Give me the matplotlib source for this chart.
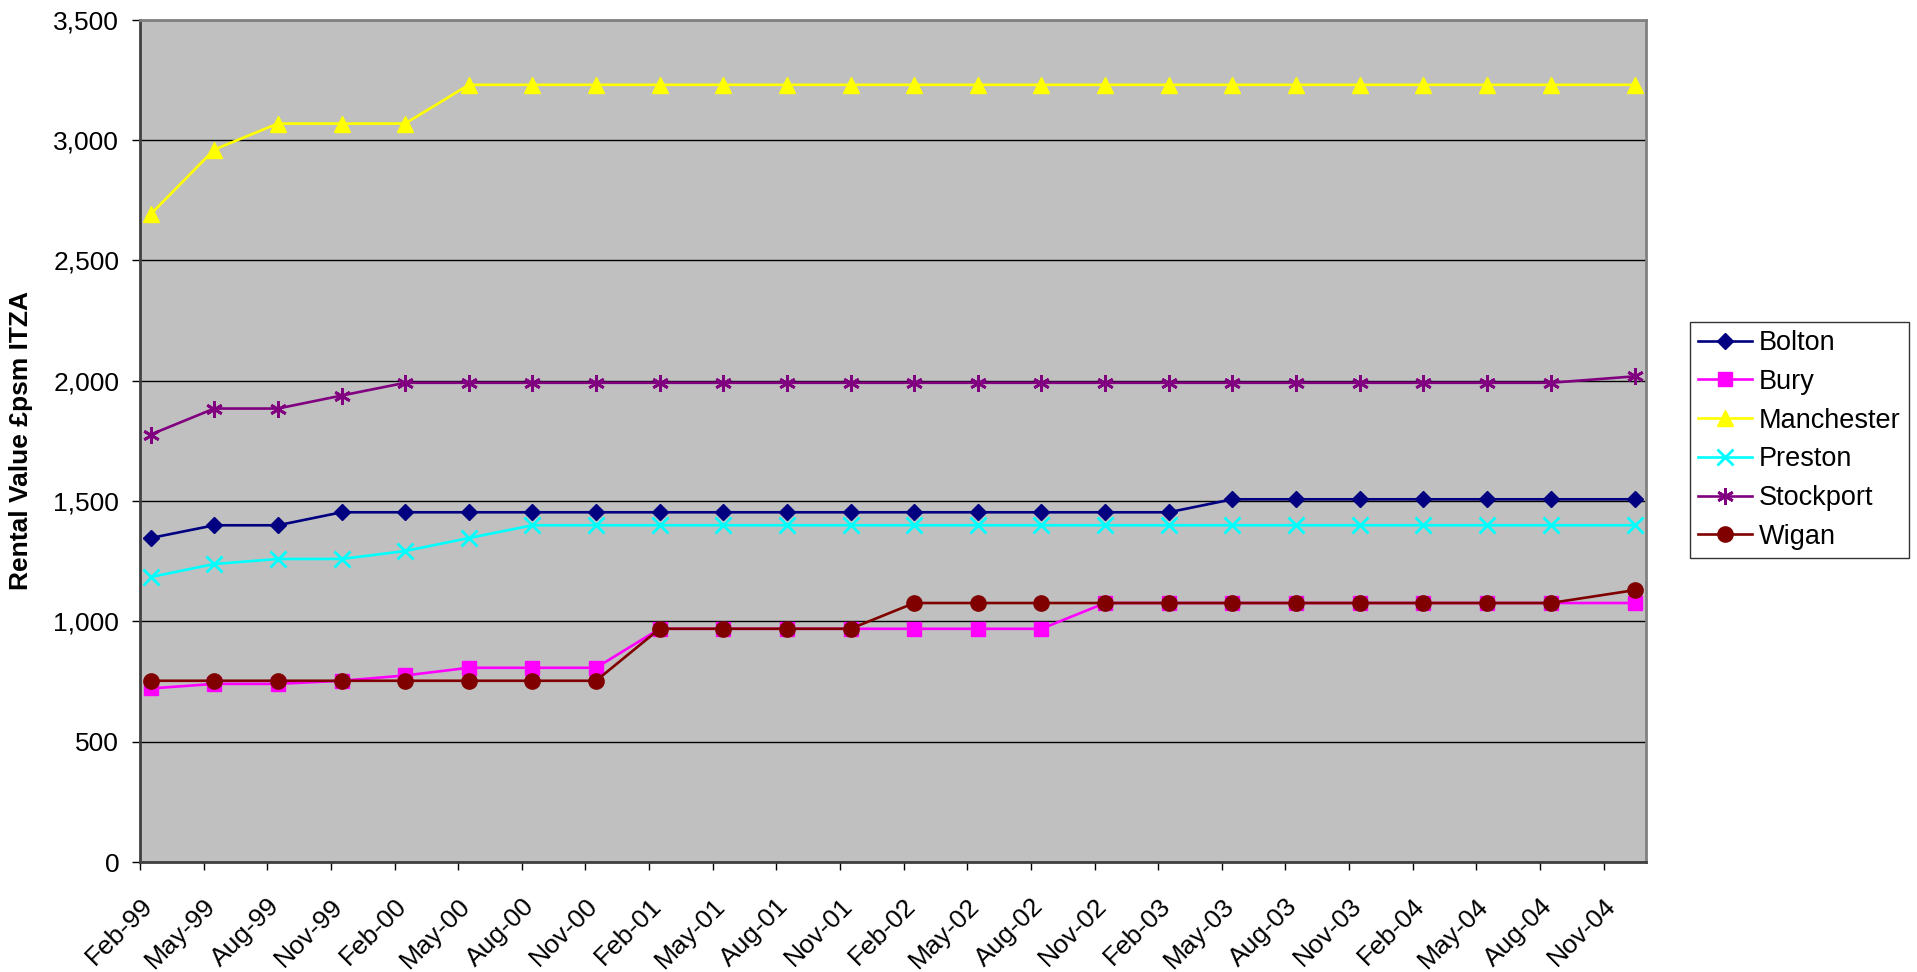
import matplotlib
matplotlib.use("Agg")
import matplotlib.pyplot as plt
import matplotlib.ticker as mticker
import pandas as pd

plt.rcParams['font.family'] = ['Liberation Sans', 'DejaVu Sans']

# quarterly survey dates (last one is December)
dates = ["Feb-99", "May-99", "Aug-99", "Nov-99", "Feb-00", "May-00", "Aug-00", "Nov-00",
         "Feb-01", "May-01", "Aug-01", "Nov-01", "Feb-02", "May-02", "Aug-02", "Nov-02",
         "Feb-03", "May-03", "Aug-03", "Nov-03", "Feb-04", "May-04", "Aug-04", "Dec-04"]

tick_labels = ["Feb-99", "May-99", "Aug-99", "Nov-99", "Feb-00", "May-00", "Aug-00", "Nov-00",
               "Feb-01", "May-01", "Aug-01", "Nov-01", "Feb-02", "May-02", "Aug-02", "Nov-02",
               "Feb-03", "May-03", "Aug-03", "Nov-03", "Feb-04", "May-04", "Aug-04", "Nov-04"]

bolton = [1346, 1399, 1399, 1453, 1453, 1453, 1453, 1453, 1453, 1453, 1453, 1453,
          1453, 1453, 1453, 1453, 1453, 1507, 1507, 1507, 1507, 1507, 1507, 1507]
bury = [721, 740, 740, 753, 775, 807, 807, 807, 969, 969, 969, 969,
        969, 969, 969, 1076, 1076, 1076, 1076, 1076, 1076, 1076, 1076, 1076]
manchester = [2691, 2960, 3068, 3068, 3068, 3229, 3229, 3229, 3229, 3229, 3229, 3229,
              3229, 3229, 3229, 3229, 3229, 3229, 3229, 3229, 3229, 3229, 3229, 3229]
preston = [1184, 1238, 1259, 1259, 1292, 1346, 1399, 1399, 1399, 1399, 1399, 1399,
           1399, 1399, 1399, 1399, 1399, 1399, 1399, 1399, 1399, 1399, 1399, 1399]
stockport = [1776, 1884, 1884, 1938, 1991, 1991, 1991, 1991, 1991, 1991, 1991, 1991,
             1991, 1991, 1991, 1991, 1991, 1991, 1991, 1991, 1991, 1991, 1991, 2018]
wigan = [753, 753, 753, 753, 753, 753, 753, 753, 969, 969, 969, 969,
         1076, 1076, 1076, 1076, 1076, 1076, 1076, 1076, 1076, 1076, 1076, 1130]


def month_index(labels):
    d = pd.to_datetime(labels, format="%b-%y")
    return (d.year - 1999) * 12 + d.month - 2


x = month_index(dates) + 0.5   # points sit mid-month like an Excel date axis
ticks = month_index(tick_labels)

fig = plt.figure(figsize=(19.17, 9.72), dpi=100)
ax = fig.add_axes([140 / 1917, 1 - 862 / 972, (1646 - 140) / 1917, (862 - 19.6) / 972])
ax.set_facecolor('#C0C0C0')

series = [
    ("Bolton", bolton, '#000080', 'D', 8.5, 1),
    ("Bury", bury, '#FF00FF', 's', 10.5, 1),
    ("Manchester", manchester, '#FFFF00', '^', 11, 1),
    ("Preston", preston, '#00FFFF', 'x', 11, 2),
    ("Stockport", stockport, '#800080', (6, 2, 0), 12, 2),
    ("Wigan", wigan, '#800000', 'o', 11, 1),
]
for name, vals, col, mk, ms, mew in series:
    ax.plot(x, vals, color=col, lw=1.9, marker=mk, ms=ms, mfc=col, mec=col, mew=mew,
            label=name, clip_on=False, zorder=3)

ax.set_xlim(0, 71)
ax.set_ylim(0, 3500)
ax.set_xticks(ticks)
ax.set_xticklabels(tick_labels, rotation=45, ha='right', rotation_mode='anchor')
ax.yaxis.set_major_locator(mticker.MultipleLocator(500))
ax.yaxis.set_major_formatter(mticker.FuncFormatter(lambda v, p: f"{v:,.0f}"))
ax.grid(axis='y', color='black', lw=1)
ax.set_axisbelow(True)

ax.tick_params(axis='both', direction='out', length=6, width=1, color='black', labelsize=19)
ax.tick_params(axis='x', pad=17)
ax.tick_params(axis='y', pad=9)

for s in ['top', 'right']:
    ax.spines[s].set_color('#808080')
    ax.spines[s].set_linewidth(2)
for s in ['left', 'bottom']:
    ax.spines[s].set_color('#404040')
    ax.spines[s].set_linewidth(2)

ax.set_ylabel("Rental Value £psm ITZA", fontsize=19, fontweight='bold')
ax.yaxis.set_label_coords(-0.071, 0.5)

leg = fig.legend(loc='upper left', bbox_to_anchor=(1690 / 1917, 1 - 322 / 972),
                 fontsize=19.5, frameon=True, fancybox=False, edgecolor='black',
                 handlelength=2.0, handletextpad=0.25, labelspacing=0.47,
                 borderpad=0.3, borderaxespad=0)
leg.get_frame().set_linewidth(1)

fig.savefig("out.png", dpi=100)
